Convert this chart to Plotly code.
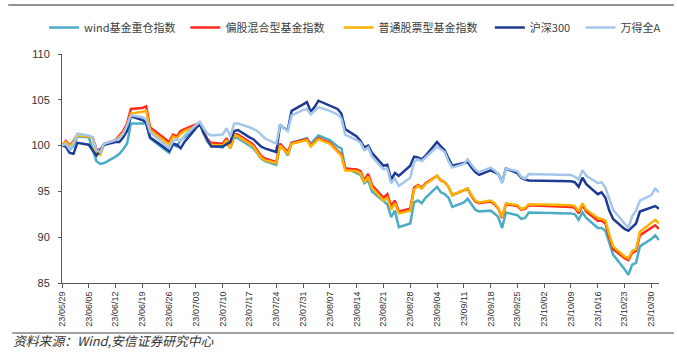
import plotly.graph_objects as go

dates = [
    "2023-05-29", "2023-05-30", "2023-05-31", "2023-06-01", "2023-06-02",
    "2023-06-05", "2023-06-06", "2023-06-07", "2023-06-08", "2023-06-09",
    "2023-06-12", "2023-06-13", "2023-06-14", "2023-06-15", "2023-06-16",
    "2023-06-19", "2023-06-20", "2023-06-21",
    "2023-06-26", "2023-06-27", "2023-06-28", "2023-06-29", "2023-06-30",
    "2023-07-03", "2023-07-04", "2023-07-05", "2023-07-06", "2023-07-07",
    "2023-07-10", "2023-07-11", "2023-07-12", "2023-07-13", "2023-07-14",
    "2023-07-17", "2023-07-18", "2023-07-19", "2023-07-20", "2023-07-21",
    "2023-07-24", "2023-07-25", "2023-07-26", "2023-07-27", "2023-07-28",
    "2023-07-31", "2023-08-01", "2023-08-02", "2023-08-03", "2023-08-04",
    "2023-08-07", "2023-08-08", "2023-08-09", "2023-08-10", "2023-08-11",
    "2023-08-14", "2023-08-15", "2023-08-16", "2023-08-17", "2023-08-18",
    "2023-08-21", "2023-08-22", "2023-08-23", "2023-08-24", "2023-08-25",
    "2023-08-28", "2023-08-29", "2023-08-30", "2023-08-31", "2023-09-01",
    "2023-09-04", "2023-09-05", "2023-09-06", "2023-09-07", "2023-09-08",
    "2023-09-11", "2023-09-12", "2023-09-13", "2023-09-14", "2023-09-15",
    "2023-09-18", "2023-09-19", "2023-09-20", "2023-09-21", "2023-09-22",
    "2023-09-25", "2023-09-26", "2023-09-27", "2023-09-28",
    "2023-10-09", "2023-10-10", "2023-10-11", "2023-10-12", "2023-10-13",
    "2023-10-16", "2023-10-17", "2023-10-18", "2023-10-19", "2023-10-20",
    "2023-10-23", "2023-10-24", "2023-10-25", "2023-10-26", "2023-10-27",
    "2023-10-30", "2023-10-31", "2023-11-01",
]

wind_fund_heavy = [
    100.0, 100.2, 99.5, 100.0, 101.0, 100.9, 99.6, 98.3, 98.0, 98.1,
    98.8, 99.1, 99.6, 100.2, 102.4, 102.4, 102.4, 100.8,
    99.2, 100.1, 99.9, 100.6, 100.9,
    102.0, 102.4, 101.3, 100.4, 100.0,
    99.8, 100.3, 99.7, 100.9, 100.8,
    100.0, 99.7, 99.2, 98.6, 98.3,
    97.9, 100.2, 99.5, 98.9, 100.3,
    100.7, 100.8, 100.2, 100.7, 101.1,
    100.6, 100.2, 99.9, 99.7, 97.6,
    97.0, 96.8, 95.9, 96.2, 95.0,
    94.0, 93.6, 92.2, 92.9, 91.1,
    91.5, 93.8, 94.0, 93.7, 94.3,
    95.5, 94.9, 94.7, 94.3, 93.3,
    93.8, 94.2, 93.6, 93.0, 92.8,
    92.9, 92.6, 92.2, 91.0, 92.7,
    92.4, 92.0, 92.1, 92.7,
    92.6, 92.5, 91.9, 92.7, 92.1,
    91.0, 91.0, 90.7, 89.4, 88.1,
    86.5, 85.9, 87.0, 87.2, 89.0,
    89.8, 90.2, 89.7,
]

mixed_equity = [
    100.0, 100.5, 100.0, 100.5, 101.2, 101.0, 100.9, 99.6, 99.5, 100.2,
    100.6, 101.1, 101.6, 102.4, 104.0, 104.1, 104.3, 102.0,
    100.4, 101.2, 101.0, 101.6, 101.8,
    102.3, 102.5, 101.5, 100.7, 100.3,
    100.2, 100.8, 99.9, 101.3, 101.2,
    100.4, 100.1, 99.5, 98.9, 98.6,
    98.2, 100.2, 99.8, 99.3, 100.3,
    100.6, 100.7, 100.0, 100.4, 100.8,
    100.3, 99.9, 99.5, 99.0, 97.5,
    97.4, 97.2, 96.2, 96.9, 95.7,
    94.3, 94.7, 93.4, 94.0, 92.8,
    93.1, 95.4, 95.7, 95.4, 95.9,
    96.7, 96.2, 96.0, 95.5, 94.6,
    95.1, 95.3, 94.5, 93.9, 93.7,
    93.9, 93.6, 93.1, 92.1, 93.6,
    93.4, 93.0, 93.1, 93.5,
    93.3, 93.2, 92.6, 93.5, 92.8,
    91.8, 91.8, 91.5, 90.0, 88.7,
    87.7, 87.5, 88.3, 88.5, 90.2,
    91.0, 91.3, 90.9,
]

common_stock = [
    100.0, 100.4, 99.9, 100.4, 101.1, 101.0, 100.8, 99.2, 99.0, 100.1,
    100.5, 100.9, 101.4, 102.1, 103.5, 103.7, 103.8, 101.7,
    100.1, 101.0, 100.8, 101.3, 101.6,
    102.1, 102.4, 101.4, 100.6, 100.1,
    100.0, 100.6, 99.7, 101.2, 101.0,
    100.2, 99.9, 99.3, 98.7, 98.4,
    98.1, 100.0, 99.6, 99.1, 100.2,
    100.5, 100.6, 99.9, 100.3, 100.7,
    100.2, 99.8, 99.4, 98.9, 97.3,
    97.2, 97.0, 96.0, 96.6, 95.4,
    94.0, 94.3, 93.0, 93.7, 92.6,
    92.9, 95.2, 95.6, 95.3, 95.8,
    96.7, 96.2, 96.0, 95.5, 94.6,
    95.1, 95.3, 94.6, 94.0, 93.8,
    94.0, 93.7, 93.2, 92.2, 93.7,
    93.5, 93.1, 93.2, 93.6,
    93.5, 93.4, 92.8, 93.7, 93.0,
    92.1, 92.0, 91.8, 90.3, 89.0,
    87.9, 87.7, 88.5, 88.7, 90.6,
    91.5, 91.9, 91.5,
]

hs300 = [
    100.0, 99.9, 99.2, 99.1, 100.3, 100.1, 99.5, 98.9, 99.5, 100.1,
    100.4, 100.4, 100.9, 101.6, 103.2, 102.8, 102.5, 100.9,
    99.4, 100.2, 100.1, 99.7, 100.4,
    101.9, 102.4, 101.4, 100.6, 99.9,
    99.9, 100.2, 100.4, 101.6, 101.7,
    100.9, 100.7, 100.3, 99.9, 99.7,
    99.3, 102.3, 101.9, 101.7, 103.8,
    104.5, 104.75, 103.7, 104.2, 104.9,
    104.4, 104.2, 104.0, 103.5, 101.8,
    101.0, 100.5, 99.8, 100.0, 99.2,
    97.8, 97.9, 96.3, 97.0, 96.7,
    97.8, 98.8, 98.7, 98.5, 98.9,
    100.4, 99.9, 99.5, 98.6, 97.8,
    98.1, 98.2, 97.6, 97.1, 96.8,
    97.3, 97.1, 96.9, 96.0, 97.5,
    97.0, 96.5, 96.3, 96.2,
    96.1, 96.0, 95.5, 96.5, 95.8,
    94.7, 94.9, 94.3, 92.9, 92.0,
    90.9, 90.7, 91.1, 91.5, 92.8,
    93.2, 93.4, 93.1,
]

wind_all_a = [
    100.0, 100.2, 99.6, 100.2, 101.3, 101.1, 100.9, 99.5, 99.3, 100.2,
    100.6, 100.8, 101.3, 102.2, 103.3, 103.1, 102.9, 101.5,
    99.7, 100.5, 100.7, 100.5, 101.1,
    102.3, 102.6, 101.9, 101.3, 101.1,
    101.2, 101.9, 101.0, 102.4, 102.4,
    102.0, 101.8, 101.6, 101.2, 100.8,
    100.2, 102.3, 101.9, 101.6, 103.3,
    103.9, 104.0, 103.4, 103.8, 104.2,
    103.8, 103.6, 103.4, 103.0, 101.2,
    100.6, 100.3, 99.5, 99.8, 98.8,
    97.4, 97.5, 95.9, 96.4, 95.6,
    96.5, 98.2, 98.5, 98.3, 98.7,
    99.9, 99.6, 99.3, 98.3, 97.6,
    98.0, 98.5, 97.9, 97.4, 97.1,
    97.6, 97.3, 96.9, 95.9, 97.5,
    97.2, 96.6, 96.4, 96.9,
    96.8, 96.6, 96.3, 97.3, 96.7,
    95.9, 96.0, 95.4, 94.2, 93.0,
    91.5, 91.0, 92.3, 92.9, 94.0,
    94.6, 95.3, 94.9,
]

series_names = ["wind基金重仓指数", "偏股混合型基金指数", "普通股票型基金指数", "沪深300", "万得全A"]
series_values = [wind_fund_heavy, mixed_equity, common_stock, hs300, wind_all_a]
series_colors = ["#4BACC6", "#FF2A1A", "#FFB000", "#1F3A93", "#A4C6EA"]

tick_dates = [
    "2023-05-29", "2023-06-05", "2023-06-12", "2023-06-19", "2023-06-26",
    "2023-07-03", "2023-07-10", "2023-07-17", "2023-07-24", "2023-07-31",
    "2023-08-07", "2023-08-14", "2023-08-21", "2023-08-28", "2023-09-04",
    "2023-09-11", "2023-09-18", "2023-09-25", "2023-10-02", "2023-10-09",
    "2023-10-16", "2023-10-23", "2023-10-30",
]
tick_labels = [
    "23/05/29", "23/06/05", "23/06/12", "23/06/19", "23/06/26",
    "23/07/03", "23/07/10", "23/07/17", "23/07/24", "23/07/31",
    "23/08/07", "23/08/14", "23/08/21", "23/08/28", "23/09/04",
    "23/09/11", "23/09/18", "23/09/25", "23/10/02", "23/10/09",
    "23/10/16", "23/10/23", "23/10/30",
]
y_ticks = [85, 90, 95, 100, 105, 110]

source_text = "资料来源：Wind,安信证券研究中心"

W, H = 677, 360
L, R, T, B = 62, 15, 53.5, 77
pw = W - L - R
ph = H - T - B


def px_x(x):
    return (x - L) / pw


def px_y(y):
    return (H - B - y) / ph


cjk = "Noto Sans CJK SC, Liberation Sans, sans-serif"

# legend text start positions (pixels) for each entry
legend_text_x = [84, 226, 380, 532, 623]

fig = go.Figure()
legend_layouts = {}
for i, (name, vals, col) in enumerate(zip(series_names, series_values, series_colors)):
    key = "legend" if i == 0 else "legend%d" % (i + 1)
    fig.add_trace(go.Scatter(
        x=dates, y=vals, name=name, mode="lines",
        line=dict(color=col, width=2.5), legend=key,
    ))
    legend_layouts[key] = dict(
        orientation="h", x=px_x(legend_text_x[i] - 40), xanchor="left",
        y=px_y(27), yanchor="middle",
        font=dict(family=cjk, size=11, color="#404040"),
        bgcolor="rgba(0,0,0,0)", borderwidth=0,
    )

fig.update_layout(
    width=W, height=H,
    margin=dict(l=L, r=R, t=T, b=B, pad=0),
    paper_bgcolor="white", plot_bgcolor="white",
    showlegend=True,
    xaxis=dict(
        type="date", range=["2023-05-29", "2023-11-01"],
        tickmode="array", tickvals=tick_dates, ticktext=tick_labels,
        tickangle=-90, ticks="outside", ticklen=4, tickwidth=1,
        tickcolor="#595959", showline=True, linecolor="#595959", linewidth=1,
        showgrid=False, zeroline=False, automargin=False,
        tickfont=dict(family="Liberation Sans, Arial, sans-serif",
                      size=9, color="#333333"),
    ),
    yaxis=dict(
        range=[85, 110], tickmode="array", tickvals=y_ticks,
        ticks="outside", ticklen=3, tickwidth=1, tickcolor="#595959",
        showline=True, linecolor="#595959", linewidth=1,
        showgrid=False, zeroline=False, automargin=False,
        ticklabelstandoff=6,
        tickfont=dict(family="Liberation Sans, Arial, sans-serif", size=11, color="#333333"),
    ),
    shapes=[
        dict(type="line", xref="paper", yref="paper",
             x0=px_x(8), x1=px_x(677), y0=px_y(4.5), y1=px_y(4.5),
             line=dict(color="#6e6e6e", width=1.5)),
        dict(type="line", xref="paper", yref="paper",
             x0=px_x(12), x1=px_x(677), y0=px_y(333), y1=px_y(333),
             line=dict(color="#808080", width=1.5)),
    ],
    annotations=[
        dict(text="<i>" + source_text + "</i>", xref="paper", yref="paper",
             x=px_x(11), y=px_y(341), xanchor="left", yanchor="middle",
             showarrow=False, font=dict(family=cjk, size=12.8, color="#333333")),
    ],
    **legend_layouts,
)

fig.write_html("out.html", config={"displayModeBar": False},
               post_script="document.body.style.margin='0px';")
